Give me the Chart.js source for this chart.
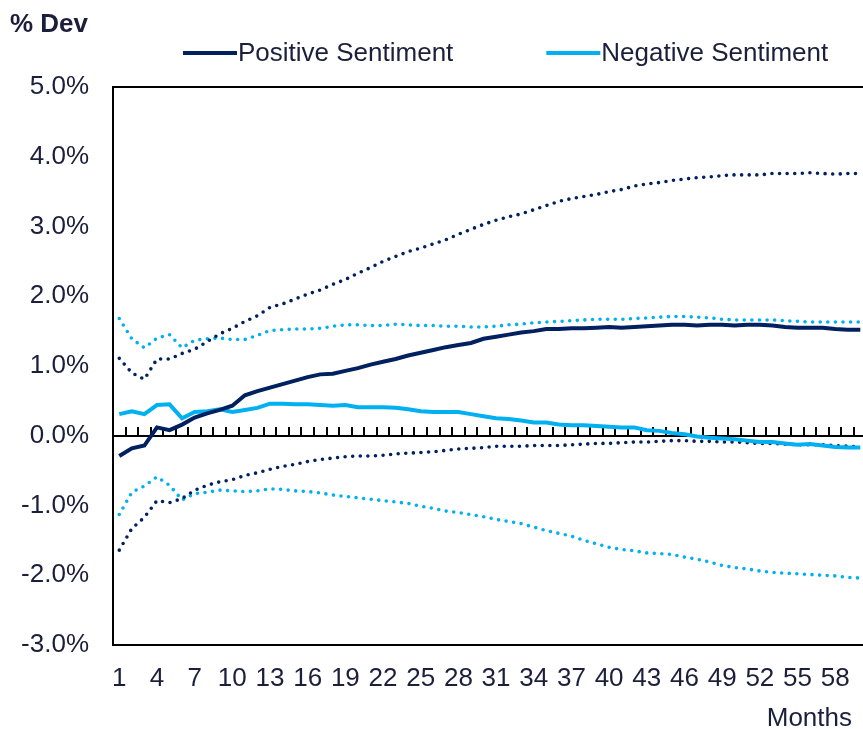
<!DOCTYPE html>
<html>
<head>
<meta charset="utf-8">
<title>% Dev by month</title>
<script src="https://cdn.jsdelivr.net/npm/chart.js@4.4.1/dist/chart.umd.min.js"></script>
<style>
  html, body { margin: 0; padding: 0; background: #fff; overflow: hidden; }
  #wrap { width: 880px; height: 729px; }
</style>
</head>
<body>
<div id="wrap"><canvas id="devChart" width="880" height="729"></canvas></div>
<script>
// months 1..60 after the shock
const months = Array.from({ length: 60 }, (_, i) => String(i + 1));

// % deviation, point estimates
const positive = [
  -0.29, -0.18, -0.14, 0.12, 0.08, 0.16, 0.26, 0.32, 0.37, 0.43,
  0.58, 0.64, 0.69, 0.74, 0.79, 0.84, 0.88, 0.89, 0.93, 0.97,
  1.02, 1.06, 1.10, 1.15, 1.19, 1.23, 1.27, 1.30, 1.33, 1.39,
  1.42, 1.45, 1.48, 1.50, 1.53, 1.53, 1.54, 1.54, 1.55, 1.56,
  1.55, 1.56, 1.57, 1.58, 1.59, 1.59, 1.58, 1.59, 1.59, 1.58,
  1.59, 1.59, 1.58, 1.56, 1.55, 1.55, 1.55, 1.53, 1.52, 1.52
];
const negative = [
  0.31, 0.35, 0.31, 0.44, 0.45, 0.25, 0.34, 0.35, 0.38, 0.34,
  0.37, 0.40, 0.46, 0.46, 0.45, 0.45, 0.44, 0.43, 0.44, 0.41,
  0.41, 0.41, 0.40, 0.38, 0.35, 0.34, 0.34, 0.34, 0.31, 0.28,
  0.25, 0.24, 0.22, 0.19, 0.19, 0.16, 0.15, 0.15, 0.14, 0.13,
  0.12, 0.12, 0.08, 0.07, 0.04, 0.02, -0.01, -0.03, -0.04, -0.05,
  -0.07, -0.09, -0.09, -0.11, -0.13, -0.12, -0.14, -0.16, -0.17, -0.17
];

// confidence bands (dotted)
const positiveUpper = [
  1.11, 0.90, 0.81, 1.10, 1.10, 1.18, 1.24, 1.35, 1.46, 1.54,
  1.64, 1.72, 1.84, 1.89, 1.96, 2.03, 2.09, 2.17, 2.24, 2.33,
  2.41, 2.50, 2.57, 2.64, 2.69, 2.75, 2.81, 2.89, 2.96, 3.03,
  3.09, 3.14, 3.18, 3.24, 3.30, 3.36, 3.40, 3.43, 3.46, 3.50,
  3.53, 3.58, 3.61, 3.63, 3.66, 3.68, 3.70, 3.71, 3.73, 3.74,
  3.74, 3.74, 3.76, 3.76, 3.76, 3.77, 3.76, 3.75, 3.76, 3.76
];
const positiveLower = [
  -1.64, -1.33, -1.17, -0.93, -0.96, -0.90, -0.78, -0.71, -0.66, -0.63,
  -0.57, -0.53, -0.48, -0.44, -0.41, -0.37, -0.34, -0.32, -0.30, -0.29,
  -0.29, -0.28, -0.26, -0.25, -0.24, -0.23, -0.21, -0.19, -0.18, -0.17,
  -0.15, -0.15, -0.15, -0.14, -0.14, -0.14, -0.13, -0.12, -0.11, -0.11,
  -0.10, -0.09, -0.09, -0.08, -0.07, -0.07, -0.08, -0.08, -0.09, -0.09,
  -0.10, -0.11, -0.11, -0.12, -0.13, -0.13, -0.13, -0.14, -0.15, -0.16
];
const negativeUpper = [
  1.68, 1.39, 1.26, 1.40, 1.45, 1.26, 1.37, 1.39, 1.40, 1.38,
  1.38, 1.44, 1.51, 1.52, 1.53, 1.53, 1.54, 1.57, 1.59, 1.59,
  1.58, 1.58, 1.60, 1.59, 1.58, 1.58, 1.57, 1.57, 1.56, 1.56,
  1.57, 1.59, 1.60, 1.62, 1.63, 1.64, 1.65, 1.66, 1.67, 1.67,
  1.67, 1.68, 1.69, 1.70, 1.71, 1.71, 1.70, 1.69, 1.67, 1.66,
  1.66, 1.66, 1.66, 1.65, 1.64, 1.63, 1.63, 1.63, 1.63, 1.63
];
const negativeLower = [
  -1.13, -0.81, -0.72, -0.59, -0.71, -0.92, -0.83, -0.81, -0.78, -0.79,
  -0.80, -0.79, -0.76, -0.77, -0.79, -0.80, -0.82, -0.85, -0.87, -0.89,
  -0.91, -0.93, -0.95, -0.97, -1.01, -1.04, -1.08, -1.10, -1.13, -1.16,
  -1.20, -1.23, -1.26, -1.31, -1.36, -1.40, -1.44, -1.50, -1.55, -1.60,
  -1.63, -1.65, -1.68, -1.69, -1.70, -1.74, -1.77, -1.81, -1.86, -1.89,
  -1.91, -1.94, -1.96, -1.97, -1.98, -1.99, -2.00, -2.01, -2.03, -2.04
];

const yMin = -3;
const yMax = 5;
const yStep = 1;

const NAVY = '#002060';
const SKY = '#00b0f0';
const INK = '#1b1f3b';
const FONT = '"Liberation Sans", Arial, sans-serif';

function solid(label, data, color, order) {
  return { label, data, borderColor: color, backgroundColor: color, borderWidth: 4,
    pointRadius: 0, tension: 0, order, inLegend: true };
}
function dotted(label, data, color, order) {
  return { label, data, borderColor: color, backgroundColor: color, borderWidth: 3.6,
    borderDash: [0, 7.6], borderCapStyle: 'round', pointRadius: 0, tension: 0, order };
}

// zero line with month ticks, plot frame, header/legend and axis caption
const decor = {
  id: 'decor',
  beforeDatasetsDraw(chart) {
    const { ctx, chartArea: a, scales: { x, y } } = chart;
    const y0 = Math.round(y.getPixelForValue(0));
    const step = x.getPixelForValue(1) - x.getPixelForValue(0);
    ctx.save();
    ctx.strokeStyle = '#000';
    ctx.lineWidth = 2;
    ctx.beginPath();
    ctx.moveTo(a.left, y0);
    ctx.lineTo(a.right, y0);
    for (let i = 0; i <= months.length; i++) {
      const px = Math.round(x.getPixelForValue(i) - step / 2);
      ctx.moveTo(px, y0);
      ctx.lineTo(px, y0 - 9);
    }
    ctx.stroke();
    ctx.lineWidth = 2;
    ctx.strokeRect(a.left, a.top, a.right - a.left, a.bottom - a.top);
    ctx.restore();
  },
  afterDraw(chart) {
    const { ctx } = chart;
    ctx.save();
    ctx.fillStyle = INK;
    ctx.textBaseline = 'alphabetic';

    ctx.font = 'bold 26px ' + FONT;
    ctx.textAlign = 'left';
    ctx.fillText('% Dev', 10, 32);

    // legend: short line sample followed by label
    ctx.font = '26px ' + FONT;
    let lx = 183;
    chart.data.datasets.filter(d => d.inLegend).forEach(d => {
      ctx.strokeStyle = d.borderColor;
      ctx.lineWidth = 4;
      ctx.beginPath();
      ctx.moveTo(lx, 53);
      ctx.lineTo(lx + 54, 53);
      ctx.stroke();
      ctx.fillStyle = INK;
      ctx.fillText(d.label, lx + 55, 61);
      lx += 55 + ctx.measureText(d.label).width + 93;
    });

    ctx.textAlign = 'right';
    ctx.fillText('Months', 852, 726);
    ctx.restore();
  }
};

new Chart(document.getElementById('devChart'), {
  type: 'line',
  data: {
    labels: months,
    datasets: [
      solid('Positive Sentiment', positive, NAVY, 0),
      solid('Negative Sentiment', negative, SKY, 1),
      dotted('Positive upper', positiveUpper, NAVY, 2),
      dotted('Positive lower', positiveLower, NAVY, 3),
      dotted('Negative upper', negativeUpper, SKY, 4),
      dotted('Negative lower', negativeLower, SKY, 5)
    ]
  },
  options: {
    responsive: false,
    animation: false,
    layout: { padding: { top: 87, right: 13.4, bottom: 0, left: 0 } },
    plugins: {
      legend: { display: false },
      title: { display: false },
      tooltip: { enabled: false }
    },
    scales: {
      x: {
        offset: true,
        grid: { display: false, drawTicks: false },
        border: { display: false },
        ticks: {
          autoSkip: false,
          maxRotation: 0,
          padding: 18,
          color: INK,
          font: { family: FONT, size: 26 },
          callback: (v, i) => (i % 3 === 0 ? months[i] : '')
        },
        afterFit: s => { s.height = 84; }
      },
      y: {
        min: yMin,
        max: yMax,
        grid: { display: false, drawTicks: false },
        border: { display: false },
        ticks: {
          stepSize: yStep,
          padding: 24,
          color: INK,
          font: { family: FONT, size: 26 },
          callback: v => v.toFixed(1) + '%'
        },
        afterFit: s => { s.width = 113; }
      }
    }
  },
  plugins: [decor]
});
</script>
</body>
</html>
